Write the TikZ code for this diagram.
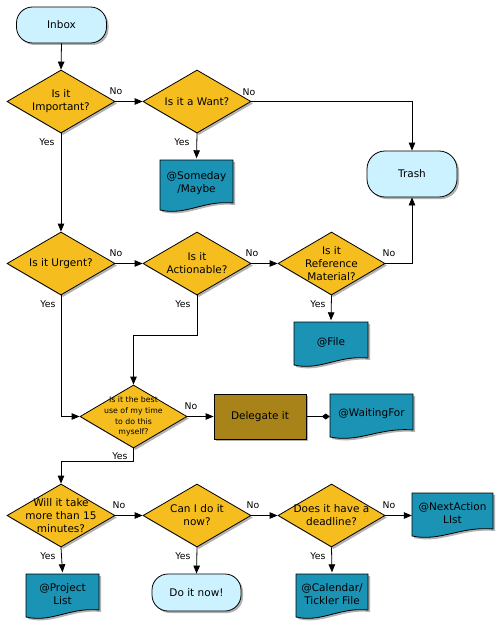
\documentclass[tikz,border=0pt]{standalone}
\usepackage{fontspec}
\setmainfont{DejaVu Sans}
\usetikzlibrary{shapes.geometric,arrows.meta,shadows,calc}
\definecolor{dyellow}{HTML}{F5BE1E}
\definecolor{dblue}{HTML}{1B93B5}
\definecolor{tcyan}{HTML}{CCF2FF}
\definecolor{dolive}{HTML}{A8831A}
\tikzset{
  base/.style={line width=0.8pt},
  shad/.style={drop shadow={shadow xshift=2pt,shadow yshift=-2pt,opacity=.3,fill=black}},
  dia/.style={diamond, draw, base, fill=dyellow, minimum width=108pt, minimum height=63pt, inner sep=0pt, shad},
  dtext/.style={align=center, font=\fontsize{10.5}{13}\selectfont, inner sep=0pt},
  stext/.style={align=center, font=\fontsize{7.8}{10.8}\selectfont, inner sep=0pt},
  term/.style={rectangle, rounded corners=16pt, draw, base, fill=tcyan, align=center, font=\fontsize{10.5}{13}\selectfont, shad},
  delbox/.style={rectangle, draw, base, fill=dolive, align=center, font=\fontsize{10.5}{13}\selectfont, shad},
  lbl/.style={font=\fontsize{9.3}{11}\selectfont, inner sep=0pt},
  arr/.style={base, -{Triangle[length=8pt,width=6.5pt]}},
  con/.style={base},
  docshadow/.style={fill=black, opacity=.3},
  docfill/.style={fill=dblue, draw=black, line width=0.8pt},
}
\newcommand\docat[6]{%
  \pgfmathsetmacro\dl{#2-#4/2}%
  \pgfmathsetmacro\dr{#2+#4/2}%
  \pgfmathsetmacro\dt{#3-#5/2}%
  \pgfmathsetmacro\db{#3+#5/2}%
  \pgfmathsetmacro\dq{#4}%
  \path[docshadow] (\dl+2,\dt+2) -- (\dr+2,\dt+2) -- (\dr+2,\db-5) .. controls (\dr-0.4*\dq+2,\db-8) and (\dl+0.35*\dq+2,\db+8) .. (\dl+2,\db+2) -- cycle;
  \path[docfill] (\dl,\dt) -- (\dr,\dt) -- (\dr,\db-7) .. controls (\dr-0.4*\dq,\db-10) and (\dl+0.35*\dq,\db+6) .. (\dl,\db) -- cycle;
  \node[inner sep=0pt, minimum width=#4pt, minimum height=#5pt, align=center, font=\fontsize{10.5}{13}\selectfont] (#1) at (#2,#3-1.5) {#6};
}
\begin{document}
\begin{tikzpicture}[x=1pt,y=-1pt]
\useasboundingbox (0,0) rectangle (500,626);
% terminals
\node[term, minimum width=90pt, minimum height=36pt] (inbox) at (61.5,25) {Inbox};
\node[term, rounded corners=18pt, minimum width=90pt, minimum height=46pt] (trash) at (412,174) {Trash};
\node[term, minimum width=89pt, minimum height=37pt] (doit) at (196.5,592.5) {Do it now!};
% diamonds
\node[dia, label={[dtext]center:{Is it\\Important?}}] (imp) at (61,101.5) {};
\node[dia, label={[dtext]center:{Is it a Want?}}] (want) at (197,101.5) {};
\node[dia, label={[dtext]center:{Is it Urgent?}}] (urg) at (61,263.5) {};
\node[dia, label={[dtext]center:{Is it\\Actionable?}}] (act) at (197,263.5) {};
\node[dia, minimum width=107pt, label={[dtext]center:{Is it\\Reference\\Material?}}] (ref) at (331.5,263.5) {};
\node[dia, minimum width=107pt, label={[stext]center:{Is it the best\\use of my time\\to do this\\myself?}}] (best) at (133.5,416.5) {};
\node[dia, label={[dtext]center:{Will it take\\more than 15\\minutes?}}] (will) at (61,515.5) {};
\node[dia, label={[dtext]center:{Can I do it\\now?}}] (can) at (197,515.5) {};
\node[dia, minimum width=107pt, label={[dtext]center:{Does it have a\\deadline?}}] (dead) at (331.5,515.5) {};
% delegate
\node[delbox, minimum width=92pt, minimum height=45pt] (del) at (260,416.5) {Delegate it};
% documents
\docat{some}{196.5}{185}{73}{50}{@Someday\\/Maybe}
\docat{file}{331}{343.5}{74}{43}{@File}
\docat{wait}{371.5}{415.5}{83}{43}{@WaitingFor}
\docat{next}{452.5}{514.5}{81}{43}{@NextAction\\LIst}
\docat{proj}{62.5}{595.5}{73}{43}{@Project\\List}
\docat{cal}{332}{595.5}{72}{43}{@Calendar/\\Tickler File}
% connectors
\draw[arr] (inbox.south) -- (imp.north);
\draw[arr] (imp.east) -- (want.west);
\draw[arr] (imp.south) -- (urg.north);
\draw[arr] (want.south) -- (some.north);
\draw[arr] (want.east) -- (want.east -| trash.north) -- (trash.north);
\draw[arr] (urg.east) -- (act.west);
\draw[arr] (urg.south) -- (urg.south |- best.west) -- (best.west);
\coordinate (a1) at (197,335);
\coordinate (a2) at (133.5,335);
\draw[arr] (act.south) -- (a1) -- (a2) -- (best.north);
\draw[arr] (act.east) -- (ref.west);
\draw[arr] (ref.east) -- (ref.east -| trash.south) -- (trash.south);
\draw[arr] (ref.south) -- (file.north);
\draw[arr] (best.east) -- (del.west);
\draw[con, -{Diamond[length=8pt,width=6pt]}] (del.east) -- (del.east -| wait.west);
\coordinate (b1) at (133.5,461);
\coordinate (b2) at (61,461);
\draw[arr] (best.south) -- (b1) -- (b2) -- (will.north);
\draw[arr] (will.east) -- (can.west);
\draw[arr] (will.south) -- (proj.north);
\draw[arr] (can.east) -- (dead.west);
\draw[arr] (can.south) -- (doit.north);
\draw[arr] (dead.east) -- (dead.east -| next.west);
\draw[arr] (dead.south) -- (cal.north);
% labels
\node[lbl] (n1) at (116,91) {No};
\node[lbl] (n2) at (249,92) {No};
\node[lbl] (n3) at (116,253) {No};
\node[lbl] (n4) at (252,253) {No};
\node[lbl] (n5) at (389,253) {No};
\node[lbl] (n6) at (191,406) {No};
\node[lbl] (n7) at (119,505) {No};
\node[lbl] (n8) at (253,505) {No};
\node[lbl] (n9) at (389,505) {No};
\node[lbl] (y1) at (47,142) {Yes};
\node[lbl] (y2) at (182,142) {Yes};
\node[lbl] (y3) at (48,304) {Yes};
\node[lbl] (y4) at (183,304) {Yes};
\node[lbl] (y5) at (318,304) {Yes};
\node[lbl] (y6) at (120,456) {Yes};
\node[lbl] (y7) at (48,556) {Yes};
\node[lbl] (y8) at (183,556) {Yes};
\node[lbl] (y9) at (318,556) {Yes};
\end{tikzpicture}
\end{document}
